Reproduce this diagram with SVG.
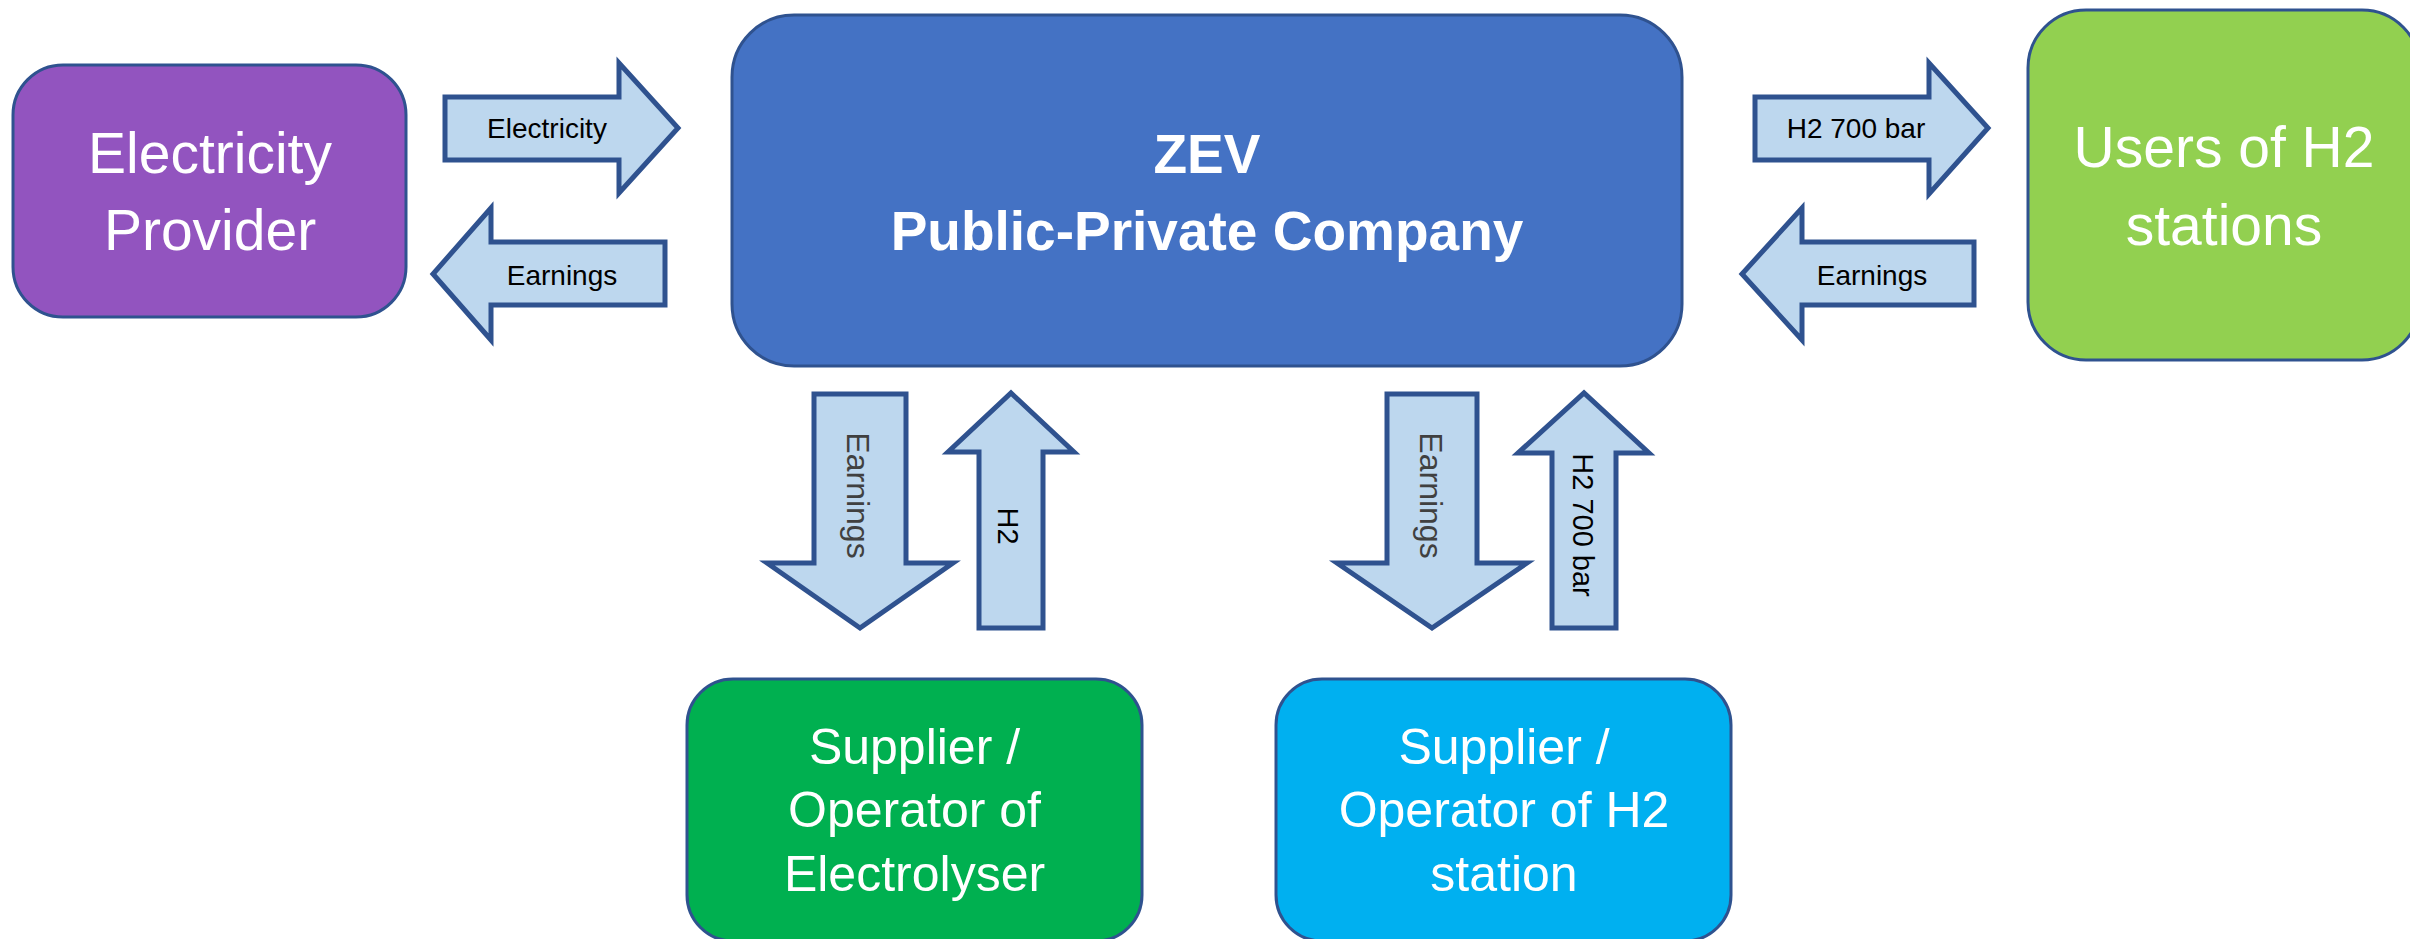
<svg xmlns="http://www.w3.org/2000/svg" width="2410" height="939" viewBox="0 0 2410 939">
<style>
.box{stroke:#2F528F;stroke-width:3}
.arr{fill:#BDD7EE;stroke:#2F528F;stroke-width:5;stroke-linejoin:miter}
.big{font-family:"Liberation Sans",Arial,sans-serif;font-size:57px;fill:#FFFFFF;text-anchor:middle}
.bot{font-family:"Liberation Sans",Arial,sans-serif;font-size:50px;fill:#FFFFFF;text-anchor:middle}
.zev{font-family:"Liberation Sans",Arial,sans-serif;font-size:55px;font-weight:bold;fill:#FFFFFF;text-anchor:middle}
.lbl{font-family:"Liberation Sans",Arial,sans-serif;font-size:28px;fill:#000000;text-anchor:middle}
.vg{font-family:"Liberation Sans",Arial,sans-serif;font-size:32px;fill:#404040;text-anchor:middle}
.vb{font-family:"Liberation Sans",Arial,sans-serif;font-size:29px;fill:#000000;text-anchor:middle}
</style>
<rect width="2410" height="939" fill="#FFFFFF"/>
<g id="connectors">
<g id="arrow-electricity">
<path class="arr" d="M445,97 H619 V63 L678,128 L619,193 V160 H445 Z"/>
<text class="lbl" x="547" y="138">Electricity</text>
</g>
<g id="arrow-earnings-left">
<path class="arr" d="M665,242 H491 V208 L433,274 L491,340 V305 H665 Z"/>
<text class="lbl" x="562" y="285">Earnings</text>
</g>
<g id="arrow-h2-700-right">
<path class="arr" d="M1755,97 H1929 V63 L1988,128 L1929,194 V160 H1755 Z"/>
<text class="lbl" x="1856" y="138">H2 700 bar</text>
</g>
<g id="arrow-earnings-right">
<path class="arr" d="M1974,242 H1802 V208 L1742,274 L1802,340 V305 H1974 Z"/>
<text class="lbl" x="1872" y="285">Earnings</text>
</g>
<g id="arrow-earnings-down-1">
<path class="arr" d="M814,394 H906 V563 H953 L860,628 L767,563 H814 Z"/>
<text class="vg" transform="translate(847,495.5) rotate(90)">Earnings</text>
</g>
<g id="arrow-h2-up">
<path class="arr" d="M979,628 V452 H948 L1011,393 L1074,452 H1043 V628 Z"/>
<text class="vb" transform="translate(998,526) rotate(90)">H2</text>
</g>
<g id="arrow-earnings-down-2">
<path class="arr" d="M1387,394 H1477 V563 H1527 L1432,628 L1337,563 H1387 Z"/>
<text class="vg" transform="translate(1420,495.5) rotate(90)">Earnings</text>
</g>
<g id="arrow-h2-700-up">
<path class="arr" d="M1552,628 V453 H1518 L1584,393 L1649,453 H1616 V628 Z"/>
<text class="vb" transform="translate(1573,525) rotate(90)">H2 700 bar</text>
</g>
</g>
<g id="node-electricity-provider">
<rect class="box" x="13" y="65" width="393" height="252" rx="50" fill="#9254BF"/>
<text class="big" x="210" y="173">Electricity</text>
<text class="big" x="210" y="250">Provider</text>
</g>
<g id="node-zev">
<rect class="box" x="732" y="15" width="950" height="351" rx="62" fill="#4472C4"/>
<text class="zev" x="1207" y="173">ZEV</text>
<text class="zev" x="1207" y="250">Public-Private Company</text>
</g>
<g id="node-users">
<rect class="box" x="2028" y="10" width="392" height="350" rx="58" fill="#92D050"/>
<text class="big" x="2224" y="167">Users of H2</text>
<text class="big" x="2224" y="245">stations</text>
</g>
<g id="node-electrolyser">
<rect class="box" x="687" y="679" width="455" height="262" rx="46" fill="#00B050"/>
<text class="bot" x="914.5" y="764">Supplier /</text>
<text class="bot" x="914.5" y="827">Operator of</text>
<text class="bot" x="914.5" y="891">Electrolyser</text>
</g>
<g id="node-h2-station">
<rect class="box" x="1276" y="679" width="455" height="262" rx="46" fill="#00B0F0"/>
<text class="bot" x="1504" y="764">Supplier /</text>
<text class="bot" x="1504" y="827">Operator of H2</text>
<text class="bot" x="1504" y="891">station</text>
</g>
</svg>
